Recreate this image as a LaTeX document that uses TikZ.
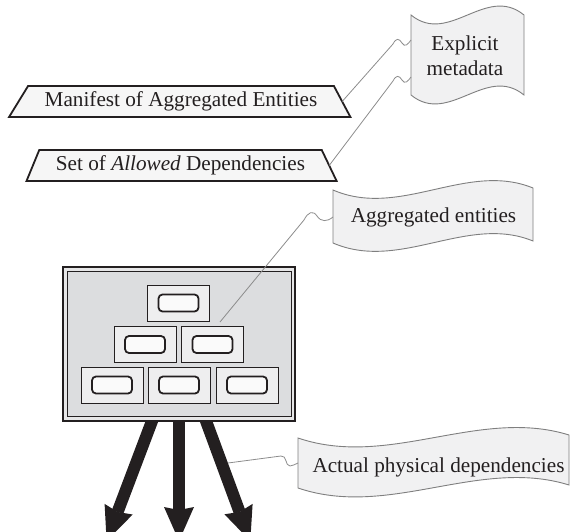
\documentclass[tikz,border=0pt]{standalone}
\usepackage{fontspec}
\setmainfont{Liberation Serif}
\usetikzlibrary{arrows.meta,shapes.geometric}
\definecolor{ink}{HTML}{231F20}
\definecolor{wirecol}{HTML}{8C8C8C}
\definecolor{flagedge}{HTML}{7F7F7F}
\definecolor{flagfill}{HTML}{F1F1F2}
\definecolor{platefill}{HTML}{F6F6F6}
\definecolor{pkgfill}{HTML}{DCDDDF}
\definecolor{pkgband}{HTML}{E6E6E7}
\definecolor{cellfill}{HTML}{EEEEEF}
\definecolor{slotfill}{HTML}{FAFAFA}
\begin{document}
\begin{tikzpicture}[x=1pt,y=-1pt,
  every node/.style={font=\fontsize{21.2pt}{25pt}\selectfont, text=ink, inner sep=0pt, outer sep=0pt},
  plate/.style={shape=trapezium, trapezium stretches=true, draw=ink, line width=1.8pt,
                fill=platefill, minimum height=31pt},
  flag/.style={draw=flagedge, line width=0.9pt, fill=flagfill},
  wire/.style={draw=wirecol, line width=0.8pt},
  pkgouter/.style={draw=ink, line width=1.3pt, fill=pkgband, minimum width=232pt, minimum height=154pt},
  pkginner/.style={draw=ink, line width=1pt, fill=pkgfill, minimum width=223.5pt, minimum height=144.5pt},
  cell/.style={draw=ink, line width=0.8pt, fill=cellfill, minimum width=62pt, minimum height=36pt},
  slot/.style={draw=ink, line width=1.8pt, fill=slotfill, rounded corners=4pt,
               minimum width=40pt, minimum height=17pt},
  bigarrow/.style={draw=ink, line width=12pt,
                   -{Stealth[width=30pt,length=34pt,inset=3pt,line width=0pt]}},
]
\useasboundingbox (0,0) rectangle (571,532);

% metadata plates
\node[plate, minimum width=342pt, trapezium left angle=49, trapezium right angle=53]
  (manifest) at (181,101.5) {Manifest of Aggregated Entities};
\node[plate, minimum width=311pt, trapezium left angle=60, trapezium right angle=56]
  (allowed) at (180.5,165.5) {Set of \textit{Allowed} Dependencies};

% callout flags
\draw[flag] (411,15) .. controls (449,46) and (486,-16) .. (524,15) -- (524,95)
  .. controls (486,64) and (449,126) .. (411,95) -- cycle;
\node[align=center] (explicit) at (465,55.4) {Explicit\\metadata};

\draw[flag] (333,190) .. controls (400,219) and (467,161) .. (533,188) -- (533,241)
  .. controls (467,214) and (400,272) .. (333,243) -- cycle;
\node[anchor=base] (aggr) at (433.5,223) {Aggregated entities};

\draw[flag] (298,438) .. controls (389,469) and (479,407) .. (569,435) -- (569,485)
  .. controls (479,457) and (389,519) .. (298,488) -- cycle;
\node[anchor=base] (actual) at (438.5,472) {Actual physical dependencies};

% outgoing physical dependencies (their tips run off the lower edge)
\coordinate (depL) at (154.3,415);
\coordinate (depM) at (179,415);
\coordinate (depR) at (203.8,415);
\coordinate (tipL) at (106.6,541);
\coordinate (tipM) at (179,541);
\coordinate (tipR) at (250.3,541);
\draw[bigarrow] (depL) -- (tipL);
\draw[bigarrow] (depM) -- (tipM);
\draw[bigarrow] (depR) -- (tipR);

% the aggregate and its entities
\node[pkgouter] (pkg) at (179,344) {};
\node[pkginner] (pkgcore) at (179.25,344.25) {};
\foreach \n/\x/\y in {c1/178.5/303, c2/145/344.5, c3/212.5/344.5,
                      c4/112/385, c5/179/385, c6/247/385} {
  \node[cell] (\n) at (\x,\y) {};
  \node[slot] (\n-slot) at (\n) {};
}

% callout leaders
\coordinate (explicitA) at (411,40);
\coordinate (explicitB) at (411,77);
\coordinate (aggrIn) at (333,217);
\coordinate (actualIn) at (298,463);
\coordinate (cellsGap) at (220,322);
\coordinate (depRside) at (228,463);

\draw[wire] (manifest.east) -- (393,44) .. controls (396,38) and (399,38) .. (402,43)
  .. controls (405,48) and (408,44) .. (explicitA);
\draw[wire] (allowed.east) -- (393,81) .. controls (396,75) and (399,75) .. (402,80)
  .. controls (405,85) and (408,81) .. (explicitB);
\draw[wire] (cellsGap) -- (304,220) .. controls (308,212) and (313,210) .. (317,216)
  .. controls (321,222) and (327,222) .. (aggrIn);
\draw[wire] (depRside) -- (281,456) .. controls (287,455) and (285,466) .. (290,466)
  .. controls (293,466) and (295,464) .. (actualIn);
\end{tikzpicture}
\end{document}
